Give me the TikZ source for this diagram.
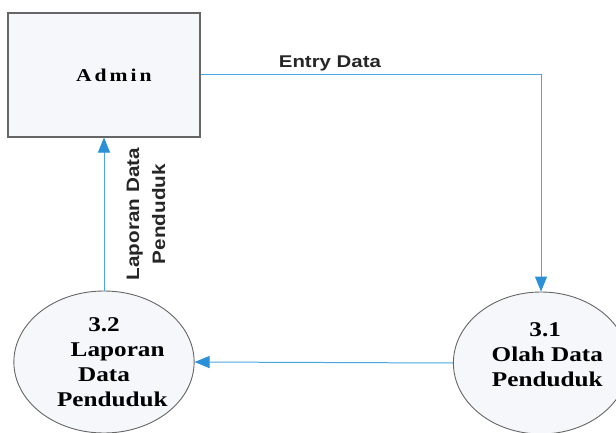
\documentclass[tikz,border=0pt]{standalone}
\usepackage{fontspec}
\setmainfont{Liberation Serif}
\setsansfont{Liberation Sans}
\newfontfamily\dfdfont[FakeStretch=1.2]{Liberation Serif}
\newfontfamily\flowfont[FakeStretch=1.2]{Liberation Sans}
\newfontfamily\upflowfont[FakeStretch=1.15]{Liberation Sans}
\usepackage{tikz}
\usetikzlibrary{positioning, shapes.geometric, arrows.meta}
\definecolor{flowblue}{HTML}{4AA6E2}
\definecolor{tipblue}{HTML}{2A90D8}
\definecolor{boxfill}{HTML}{F5F7FA}
\definecolor{edge}{HTML}{666666}
\tikzset{entity/.style = {rectangle,draw=edge,fill=boxfill,line width=1.1pt,minimum width=192pt,minimum height=124pt,font=\dfdfont\fontsize{18}{20}\selectfont\bfseries},
         proc/.style = {ellipse,draw=edge,fill=boxfill,line width=0.9pt,minimum width=168pt,minimum height=142pt,inner sep=0pt,align=center,font=\dfdfont\fontsize{21}{25}\selectfont\bfseries},
         flow/.style = {draw=flowblue,line width=1pt,-{Triangle[length=15pt,width=12pt,color=tipblue]}},
         flowlabel/.style = {font=\flowfont\fontsize{17}{26}\selectfont\bfseries,text=black!85}}

\begin{document}
\begin{tikzpicture}[x=1pt,y=-1pt]
        \clip (0,0) rectangle (616,433);
        \fill[white] (0,0) rectangle (616,433);
        \node [entity] (admin) at (104, 75) {\hspace*{1.1em}A\,d\,m\,i\,n};
        \node [proc] (p32) at (104,362) {3.2\\\hspace*{1.3em}Laporan\\Data\hspace*{0.4em}\\\hspace*{0.8em}Penduduk};
        \node [proc] (p31) at (541,363) {\hspace*{0.4em}3.1\\\hspace*{0.6em}Olah Data\\\hspace*{0.6em}Penduduk\\[-9pt]};
        \draw [flow] (admin.east) -| node [flowlabel, above=0pt, pos=0.19] {Entry Data} (p31.north);
        \draw [flow] (p31.west) -- (p32.east);
        \draw [flow] (p32.north) -- node [flowlabel, midway, xshift=42pt, rotate=90, align=center, font=\upflowfont\fontsize{18}{26}\selectfont\bfseries] {Laporan Data\\Penduduk} (admin.south);
    \end{tikzpicture}
\end{document}
